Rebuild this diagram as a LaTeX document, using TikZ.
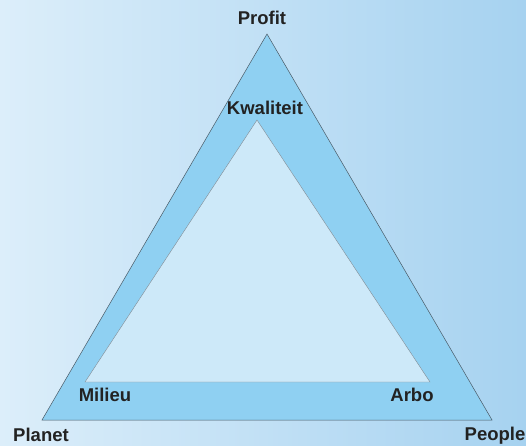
\documentclass[tikz,border=0pt]{standalone}
\usepackage{fontspec}
\setmainfont{Liberation Sans}
\definecolor{bgleft}{HTML}{DCEEFA}
\definecolor{bgright}{HTML}{A6D2F0}
\definecolor{band}{HTML}{8FD0F2}
\definecolor{inner}{HTML}{CDE9F9}
\definecolor{edge}{HTML}{4A5A66}
\definecolor{ink}{HTML}{222222}
\begin{document}
\begin{tikzpicture}[x=1pt,y=-1pt,
  lbl/.style={font=\fontsize{18.5}{20}\selectfont\bfseries, text=ink, inner sep=0pt},
  tri/.style={draw=edge, line width=0.5pt, line join=miter}]
\shade[left color=bgleft, right color=bgright] (0,0) rectangle (526,445);
\useasboundingbox (0,0) rectangle (526,445);
\coordinate (A) at (267,34);
\coordinate (B) at (42,420);
\coordinate (C) at (492,420);
\coordinate (a) at (257,120);
\coordinate (b) at (85,382);
\coordinate (c) at (430,382);
\fill[band, tri] (A) -- (B) -- (C) -- cycle;
\fill[inner, draw=edge!70, line width=0.4pt] (a) -- (b) -- (c) -- cycle;
\node[lbl] (profit) at (262,18) {Profit};
\node[lbl] (kwal) at (265,108) {Kwaliteit};
\node[lbl] (milieu) at (105,395) {Milieu};
\node[lbl] (arbo) at (412,395) {Arbo};
\node[lbl] (planet) at (41,435) {Planet};
\node[lbl] (people) at (495,436) {People};
\end{tikzpicture}
\end{document}
